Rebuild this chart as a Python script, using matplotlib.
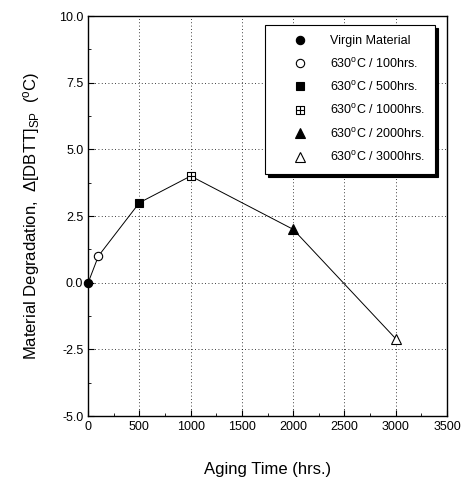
import matplotlib
matplotlib.use("Agg")
import matplotlib.pyplot as plt
from matplotlib.path import Path
from matplotlib.ticker import MultipleLocator, FormatStrFormatter

plt.rcParams['font.family'] = ['Liberation Sans', 'DejaVu Sans']
plt.rcParams['mathtext.fontset'] = 'custom'
plt.rcParams['mathtext.rm'] = 'Liberation Sans'
plt.rcParams['mathtext.it'] = 'Liberation Sans'
plt.rcParams['axes.unicode_minus'] = False

# data
aging_hours = [0, 100, 500, 1000, 2000, 3000]
degradation = [0.0, 1.0, 3.0, 4.0, 2.0, -2.1]
labels = ['Virgin Material',
          '630$^{\\mathrm{o}}$C / 100hrs.',
          '630$^{\\mathrm{o}}$C / 500hrs.',
          '630$^{\\mathrm{o}}$C / 1000hrs.',
          '630$^{\\mathrm{o}}$C / 2000hrs.',
          '630$^{\\mathrm{o}}$C / 3000hrs.']

# square with a cross inside
box_cross = Path(
    [(-1, -1), (1, -1), (1, 1), (-1, 1), (-1, -1),
     (0, -1), (0, 1), (-1, 0), (1, 0)],
    [Path.MOVETO, Path.LINETO, Path.LINETO, Path.LINETO, Path.CLOSEPOLY,
     Path.MOVETO, Path.LINETO, Path.MOVETO, Path.LINETO])

styles = [
    dict(marker='o', mfc='black', ms=6),
    dict(marker='o', mfc='white', ms=6),
    dict(marker='s', mfc='black', ms=6),
    dict(marker=box_cross, mfc='white', ms=6),
    dict(marker='^', mfc='black', ms=7),
    dict(marker='^', mfc='white', ms=7.5),
]

fig = plt.figure(figsize=(4.69, 4.86), dpi=100)
ax = fig.add_axes([0.188, 0.144, 0.765, 0.823])

ax.plot(aging_hours, degradation, color='black', lw=0.7, zorder=2)
for x, y, lab, st in zip(aging_hours, degradation, labels, styles):
    ax.plot([x], [y], linestyle='none', mec='black', mew=0.8, label=lab,
            zorder=3, clip_on=False, **st)

ax.set_xlim(0, 3500)
ax.set_ylim(-5, 10)
ax.xaxis.set_major_locator(MultipleLocator(500))
ax.xaxis.set_minor_locator(MultipleLocator(250))
ax.yaxis.set_major_locator(MultipleLocator(2.5))
ax.yaxis.set_minor_locator(MultipleLocator(1.25))
ax.yaxis.set_major_formatter(FormatStrFormatter('%.1f'))
ax.tick_params(which='both', direction='in', labelsize=9, top=False, right=False)
ax.tick_params(which='major', length=4)
ax.tick_params(which='minor', length=2)
ax.grid(True, which='major', linestyle=(0, (1, 3)), color='black', lw=0.6)
for s in ax.spines.values():
    s.set_linewidth(1.0)

ax.set_xlabel('Aging Time (hrs.)', fontsize=12, labelpad=21)
ax.set_ylabel('Material Degradation,  $\\Delta$[DBTT]$_{\\mathrm{SP}}$  ($^{\\mathrm{o}}$C)',
              fontsize=12, labelpad=12)

leg = ax.legend(loc='upper right', bbox_to_anchor=(0.967, 0.9775), fontsize=9,
                frameon=True, fancybox=False, edgecolor='black', framealpha=1,
                shadow={'color': 'black', 'alpha': 1}, handletextpad=0.4,
                labelspacing=0.75, borderpad=0.8, handlelength=4.0,
                borderaxespad=0)
leg.get_frame().set_linewidth(0.8)

fig.savefig('out.png', dpi=100)
